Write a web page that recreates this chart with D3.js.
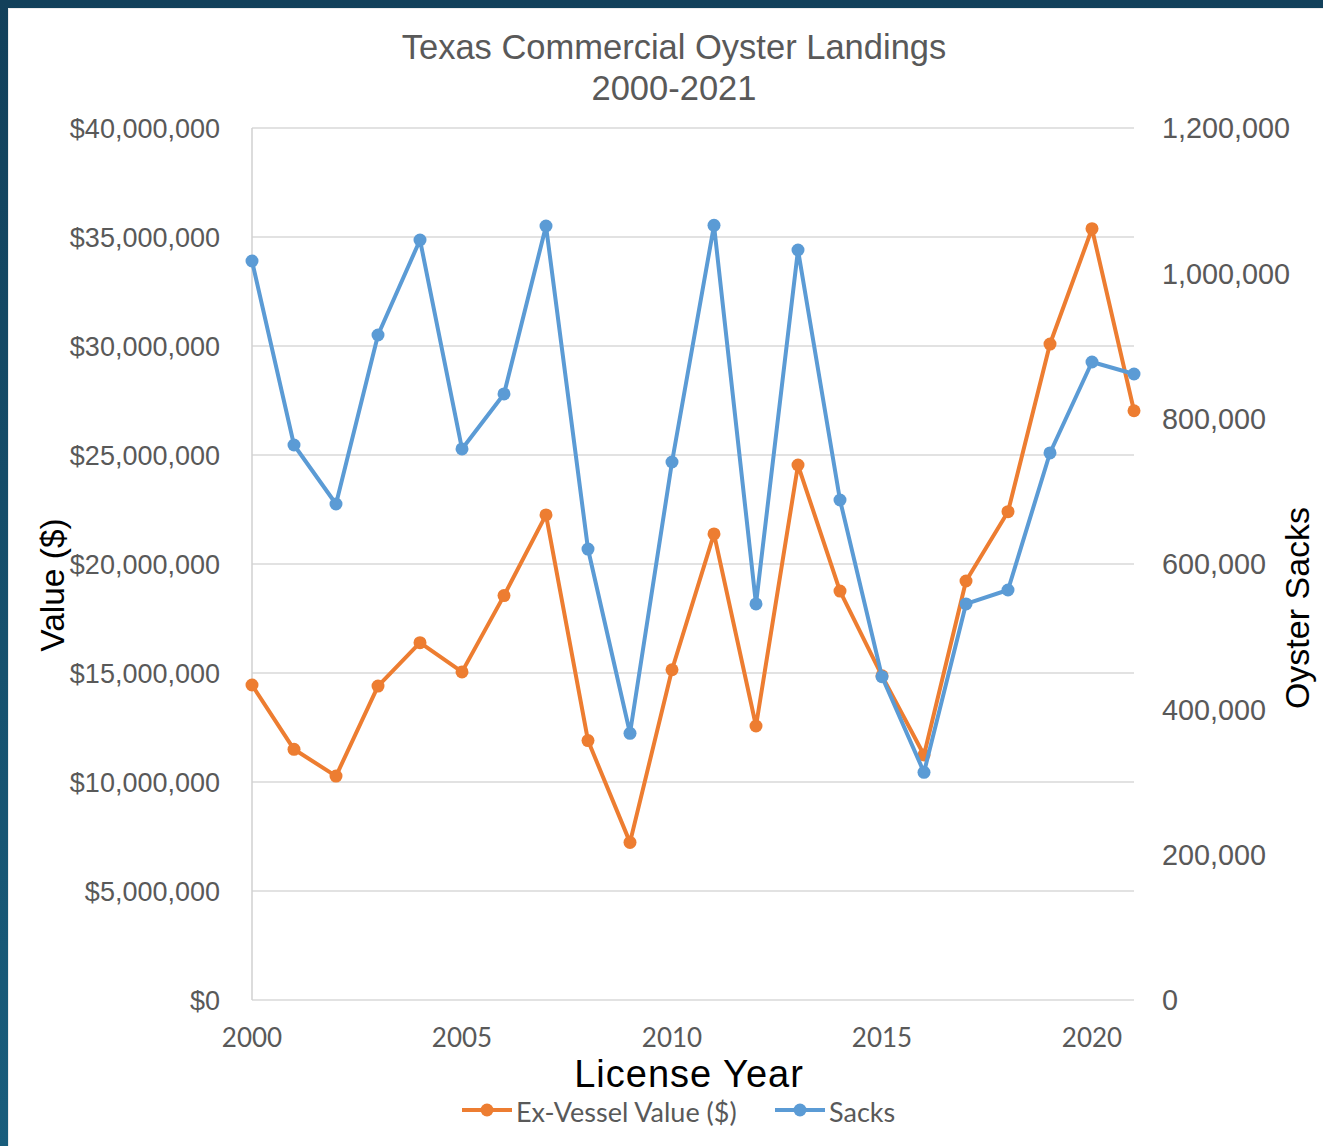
<!DOCTYPE html>
<html>
<head>
<meta charset="utf-8">
<script src="https://cdn.jsdelivr.net/npm/d3@7"></script>
<style>
  html, body { margin: 0; padding: 0; background: #ffffff; }
  svg { display: block; }
</style>
</head>
<body>
<svg id="chart" width="1323" height="1146"></svg>
<script>
const years = [2000,2001,2002,2003,2004,2005,2006,2007,2008,2009,2010,2011,2012,2013,2014,2015,2016,2017,2018,2019,2020,2021];
const exVesselValue = [14450000,11500000,10270000,14400000,16390000,15050000,18550000,22250000,11900000,7230000,15150000,21380000,12570000,24540000,18760000,14870000,11240000,19220000,22400000,30090000,35380000,27030000];
const sacks = [1017000,763800,682600,915100,1045900,758300,834000,1065100,620600,367000,740400,1066000,545000,1032100,688100,445000,313300,545000,564200,752800,878000,861500];
const leftTicks = [0,5e6,10e6,15e6,20e6,25e6,30e6,35e6,40e6];
const rightTicks = [0,200000,400000,600000,800000,1000000,1200000];
const xTicks = [2000,2005,2010,2015,2020];
const titleLines = ["Texas Commercial Oyster Landings","2000-2021"];
const seriesNames = ["Ex-Vessel Value ($)","Sacks"];
const colors = {value:"#ED7D31", sacks:"#5B9BD5"};

const svg = d3.select("#chart");

// frame / background
const defs = svg.append("defs");
const grad = defs.append("linearGradient").attr("id","bandGrad").attr("x1",0).attr("y1",0).attr("x2",0).attr("y2",1);
grad.append("stop").attr("offset","0%").attr("stop-color","#12405a");
grad.append("stop").attr("offset","100%").attr("stop-color","#195d7c");
svg.append("rect").attr("x",0).attr("y",0).attr("width",1323).attr("height",1146).attr("fill","url(#bandGrad)");
svg.append("rect").attr("x",8).attr("y",8).attr("width",1315).attr("height",1138).attr("fill","#ececec");
svg.append("rect").attr("x",9).attr("y",9).attr("width",1314).attr("height",1137).attr("fill","#ffffff");

const x = d3.scaleLinear().domain([2000,2021]).range([252,1134]);
const yL = d3.scaleLinear().domain([0,40e6]).range([1000,128]);
const yR = d3.scaleLinear().domain([0,1.2e6]).range([1000,128]);

// gridlines
svg.append("g").selectAll("line").data(leftTicks).join("line")
  .attr("x1",x(2000)).attr("x2",x(2021))
  .attr("y1",d=>yL(d)).attr("y2",d=>yL(d))
  .attr("stroke","#d9d9d9").attr("stroke-width",1.5);
// left axis line
svg.append("line").attr("x1",x(2000)).attr("x2",x(2000)).attr("y1",yL(40e6)).attr("y2",yL(0))
  .attr("stroke","#d0d0d0").attr("stroke-width",1.5);

const fmtMoney = d => "$" + d3.format(",")(d);
// left tick labels
svg.append("g").selectAll("text").data(leftTicks).join("text")
  .attr("x",220).attr("y",d=>yL(d)).attr("dy","0.36em")
  .attr("text-anchor","end").attr("fill","#595959")
  .attr("font-family","'Liberation Sans', Arial, sans-serif").attr("font-size",27)
  .text(fmtMoney);
// right tick labels
svg.append("g").selectAll("text").data(rightTicks).join("text")
  .attr("x",1162).attr("y",d=>yR(d)).attr("dy","0.36em")
  .attr("text-anchor","start").attr("fill","#595959")
  .attr("font-family","'Liberation Sans', Arial, sans-serif").attr("font-size",28.8)
  .text(d=>d3.format(",")(d));
// x tick labels
svg.append("g").selectAll("text").data(xTicks).join("text")
  .attr("x",d=>x(d)).attr("y",1037.5).attr("dy","0.36em")
  .attr("text-anchor","middle").attr("fill","#595959")
  .attr("font-family","Lato, 'Open Sans', sans-serif").attr("font-size",26)
  .text(d=>d);

// title
svg.append("g").selectAll("text").data(titleLines).join("text")
  .attr("x",674).attr("y",(d,i)=>47 + i*41).attr("dy","0.36em")
  .attr("text-anchor","middle").attr("fill","#595959")
  .attr("font-family","'Liberation Sans', Arial, sans-serif").attr("font-size",34.5)
  .text(d=>d);

// axis titles
svg.append("text").attr("x",689).attr("y",1073.5).attr("dy","0.36em")
  .attr("text-anchor","middle").attr("fill","#000")
  .attr("font-family","'Liberation Sans', Arial, sans-serif").attr("font-size",38)
  .attr("letter-spacing",1)
  .text("License Year");
svg.append("text").attr("transform","translate(52,585) rotate(-90)").attr("dy","0.36em")
  .attr("text-anchor","middle").attr("fill","#000")
  .attr("font-family","'Liberation Sans', Arial, sans-serif").attr("font-size",33.5)
  .text("Value ($)");
svg.append("text").attr("transform","translate(1297,608) rotate(-90)").attr("dy","0.36em")
  .attr("text-anchor","middle").attr("fill","#000")
  .attr("font-family","'Liberation Sans', Arial, sans-serif").attr("font-size",34)
  .text("Oyster Sacks");

// series
function drawSeries(values, yScale, color) {
  const data = years.map((yr,i)=>({yr, v: values[i]}));
  const line = d3.line().x(d=>x(d.yr)).y(d=>yScale(d.v));
  const g = svg.append("g");
  g.append("path").datum(data).attr("d",line).attr("fill","none")
    .attr("stroke",color).attr("stroke-width",4).attr("stroke-linejoin","round");
  g.selectAll("circle").data(data).join("circle")
    .attr("cx",d=>x(d.yr)).attr("cy",d=>yScale(d.v)).attr("r",6.5).attr("fill",color);
}
drawSeries(exVesselValue, yL, colors.value);
drawSeries(sacks, yR, colors.sacks);

// legend
const legendItems = [
  {name: seriesNames[0], color: colors.value, x0: 462},
  {name: seriesNames[1], color: colors.sacks, x0: 775}
];
const lg = svg.append("g");
legendItems.forEach(it=>{
  lg.append("line").attr("x1",it.x0).attr("x2",it.x0+50).attr("y1",1110).attr("y2",1110)
    .attr("stroke",it.color).attr("stroke-width",4);
  lg.append("circle").attr("cx",it.x0+25).attr("cy",1110).attr("r",6.5).attr("fill",it.color);
  lg.append("text").attr("x",it.x0+54).attr("y",1112.5).attr("dy","0.36em")
    .attr("fill","#595959").attr("font-family","Lato, 'Open Sans', sans-serif").attr("font-size",27)
    .text(it.name);
});
</script>
</body>
</html>
